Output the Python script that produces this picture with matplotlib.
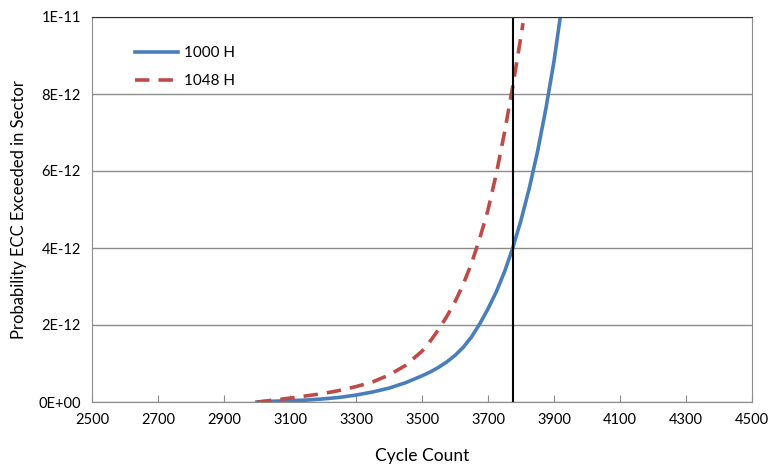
import matplotlib.pyplot as plt

# cycle counts and probabilities (units of 1e-12)
cycles_1000 = [3000, 3050, 3100, 3150, 3200, 3250, 3300, 3350, 3400, 3450, 3500,
               3525, 3550, 3575, 3600, 3625, 3650, 3675, 3700, 3725, 3750, 3775,
               3800, 3825, 3850, 3875, 3900, 3919]
prob_1000 = [0.0, 0.02, 0.035, 0.05, 0.08, 0.12, 0.18, 0.26, 0.36, 0.5, 0.68,
             0.78, 0.9, 1.04, 1.21, 1.42, 1.69, 2.03, 2.42, 2.86, 3.38, 4.0,
             4.72, 5.55, 6.5, 7.6, 8.85, 10.0]

cycles_1048 = [3000, 3050, 3100, 3150, 3200, 3250, 3300, 3350, 3400, 3450, 3500,
               3525, 3550, 3575, 3600, 3625, 3650, 3675, 3700, 3725, 3750,
               3775, 3800, 3806]
prob_1048 = [0.0, 0.05, 0.1, 0.16, 0.22, 0.3, 0.4, 0.52, 0.7, 0.95, 1.32,
             1.58, 1.88, 2.22, 2.6, 3.06, 3.6, 4.25, 4.99, 5.92, 7.0,
             8.2, 9.5, 9.84]

x_ticks = [2500, 2700, 2900, 3100, 3300, 3500, 3700, 3900, 4100, 4300, 4500]
y_ticks = [0, 2, 4, 6, 8, 10]
y_labels = ['0E+00', '2E-12', '4E-12', '6E-12', '8E-12', '1E-11']
limit_cycle = 3775

plt.rcParams['font.family'] = ['Lato', 'DejaVu Sans']

fig = plt.figure(figsize=(7.78, 4.65), dpi=100)
ax = fig.add_axes([92 / 778, 63 / 465, 660 / 778, 385 / 465])

ax.plot(cycles_1000, prob_1000, color='#4a7ebb', lw=2.6, label='1000 H')
ax.plot(cycles_1048, prob_1048, color='#be4b48', lw=2.6, ls=(0, (4, 2.5)), label='1048 H')
ax.axvline(limit_cycle, color='black', lw=1.5)

ax.set_xlim(2500, 4500)
ax.set_ylim(0, 10)
ax.set_xticks(x_ticks)
ax.set_yticks(y_ticks)
ax.set_yticklabels(y_labels)
ax.yaxis.grid(True, color='#8c8c8c', lw=1)
ax.set_axisbelow(True)

for side in ['left', 'bottom', 'right']:
    ax.spines[side].set_color('#8c8c8c')
ax.spines['top'].set_color('#333333')

ax.tick_params(axis='x', direction='in', length=5, color='#8c8c8c', labelsize=10.5, pad=8)
ax.tick_params(axis='y', length=0, labelsize=10.5, pad=8)

ax.set_xlabel('Cycle Count', fontsize=12.5, labelpad=15)
ax.set_ylabel('Probability ECC Exceeded in Sector', fontsize=12, labelpad=8)

ax.legend(loc='upper left', bbox_to_anchor=(0.045, 0.96), frameon=False,
          fontsize=11, handlelength=2.8, handletextpad=0.4, labelspacing=0.9)

fig.savefig('out.png', dpi=100)
